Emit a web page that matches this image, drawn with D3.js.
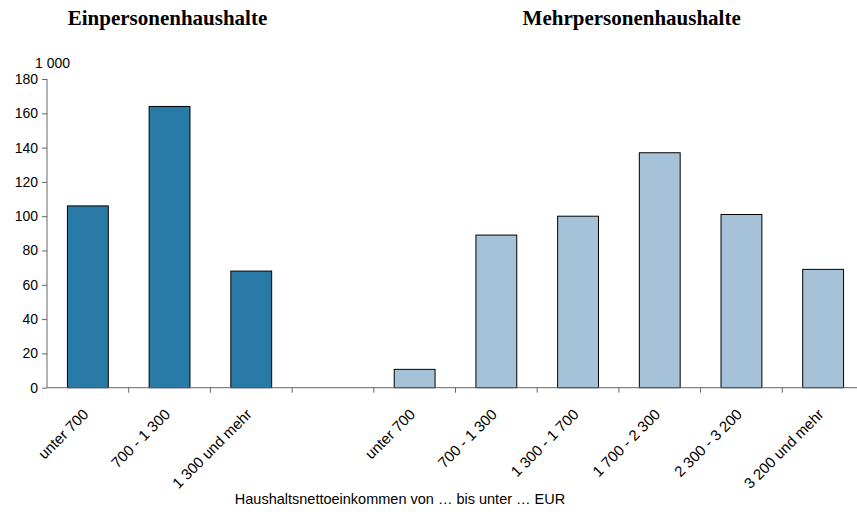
<!DOCTYPE html>
<html>
<head>
<meta charset="utf-8">
<script src="https://cdn.jsdelivr.net/npm/d3@7"></script>
<style>
  body { margin: 0; background: #fff; }
  svg { display: block; font-family: Arial, "Liberation Sans", sans-serif; }
</style>
</head>
<body>
<div id="vis-container"></div>
<script>
// data (Tausend Haushalte)
const singleCats = ["unter 700", "700 - 1 300", "1 300 und mehr"];
const singleValues = [106, 164, 68];
const multiCats = ["unter 700", "700 - 1 300", "1 300 - 1 700", "1 700 - 2 300", "2 300 - 3 200", "3 200 und mehr"];
const multiValues = [10.7, 89, 100, 137, 101, 69];
const yTicks = [0, 20, 40, 60, 80, 100, 120, 140, 160, 180];

const width = 857, height = 516;

// one row per slot, with an empty slot between the two groups
const rows = [];
singleCats.forEach((c, i) => rows.push({ key: "s" + i, label: c, value: singleValues[i], group: "single" }));
rows.push({ key: "gap", label: "", value: null, group: null });
multiCats.forEach((c, i) => rows.push({ key: "m" + i, label: c, value: multiValues[i], group: "multi" }));

const svg = d3.select("#vis-container")
  .append("svg")
  .attr("width", width)
  .attr("height", height);

const x = d3.scaleBand()
  .domain(rows.map(d => d.key))
  .range([47, 864])
  .paddingInner(0.5)
  .paddingOuter(0.25);

const y = d3.scaleLinear()
  .domain([0, 180])
  .range([387.7, 79]);

const color = { single: "#2a7aa7", multi: "#a5c2d8" };

// y axis
const yAxis = svg.append("g")
  .attr("transform", "translate(47,0)")
  .call(d3.axisLeft(y).tickValues(yTicks).tickSize(5).tickPadding(4).tickFormat(d3.format("d")));
yAxis.select(".domain").attr("stroke", "#666").attr("d", "M0," + y(180) + "V" + y(0));
yAxis.selectAll(".tick line").attr("stroke", "#666");
yAxis.selectAll(".tick text").attr("fill", "#000").style("font-size", "14px");

svg.append("text")
  .attr("x", 52.5)
  .attr("y", 68)
  .attr("text-anchor", "middle")
  .style("font-size", "14px")
  .text("1 000");

// bars
svg.selectAll("rect.bar")
  .data(rows.filter(d => d.value != null))
  .enter()
  .append("rect")
  .attr("class", "bar")
  .attr("x", d => x(d.key))
  .attr("y", d => y(d.value))
  .attr("width", x.bandwidth())
  .attr("height", d => y(0) - y(d.value))
  .attr("fill", d => color[d.group])
  .attr("stroke", "#000")
  .attr("stroke-width", 1);

// x axis: line plus ticks at slot boundaries
const step = x.step();
const xAxis = svg.append("g");
xAxis.append("line")
  .attr("x1", 47).attr("x2", 864)
  .attr("y1", y(0)).attr("y2", y(0))
  .attr("stroke", "#666");
xAxis.selectAll("line.tick")
  .data(rows.slice(1))
  .enter()
  .append("line")
  .attr("class", "tick")
  .attr("x1", d => x(d.key) - step * 0.25)
  .attr("x2", d => x(d.key) - step * 0.25)
  .attr("y1", y(0))
  .attr("y2", y(0) + 5)
  .attr("stroke", "#666");

// rotated category labels
svg.selectAll("text.cat")
  .data(rows.filter(d => d.label))
  .enter()
  .append("text")
  .attr("class", "cat")
  .attr("text-anchor", "end")
  .attr("transform", d => "translate(" + (x(d.key) + x.bandwidth() / 2 + 1.5) + "," + (y(0) + 27.6) + ") rotate(-45)")
  .style("font-size", "15px")
  .text(d => d.label);

// group titles
svg.append("text")
  .attr("x", 167.5).attr("y", 25)
  .attr("text-anchor", "middle")
  .style("font-family", "'Times New Roman', 'Liberation Serif', serif")
  .style("font-weight", "bold")
  .style("font-size", "21px")
  .text("Einpersonenhaushalte");
svg.append("text")
  .attr("x", 631.7).attr("y", 25)
  .attr("text-anchor", "middle")
  .style("font-family", "'Times New Roman', 'Liberation Serif', serif")
  .style("font-weight", "bold")
  .style("font-size", "21px")
  .text("Mehrpersonenhaushalte");

// x axis title
svg.append("text")
  .attr("x", 400).attr("y", 504)
  .attr("text-anchor", "middle")
  .style("font-size", "14.5px")
  .text("Haushaltsnettoeinkommen von … bis unter … EUR");
</script>
</body>
</html>
